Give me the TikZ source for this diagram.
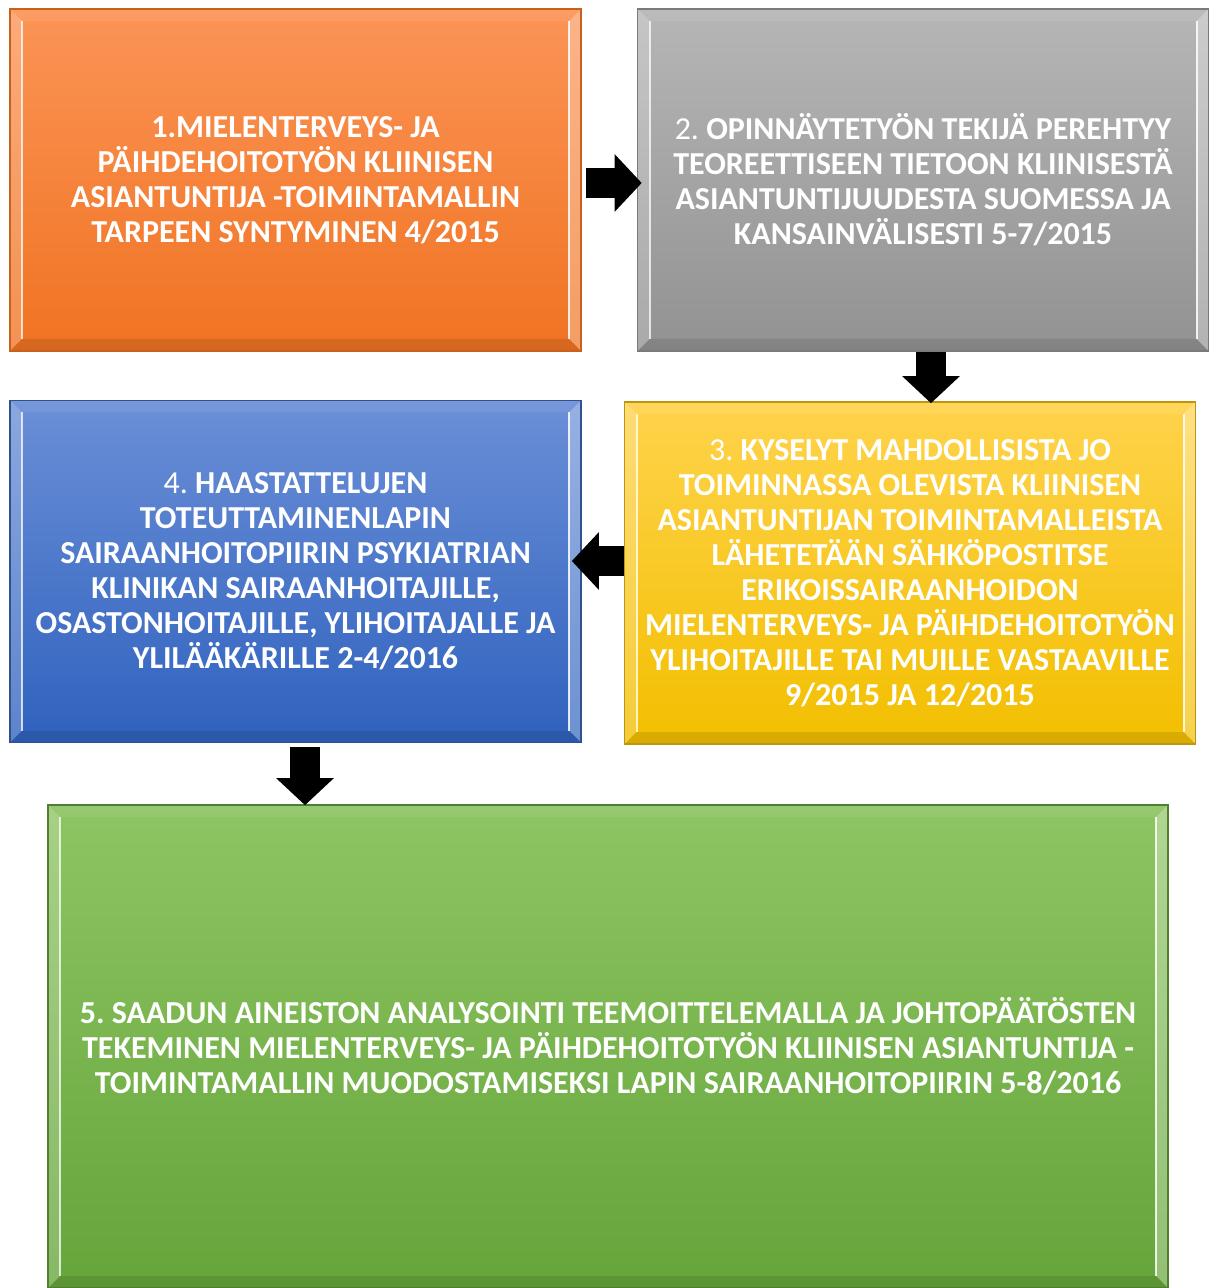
\documentclass[tikz,border=0pt]{standalone}
\usepackage{fontspec}
\setmainfont{Carlito}
\usepackage{tikz}
\usetikzlibrary{arrows.meta}
\frenchspacing
\definecolor{orangetop}{HTML}{FB9456}
\definecolor{orangebot}{HTML}{F07322}
\definecolor{orangeline}{HTML}{C9611E}
\definecolor{graytop}{HTML}{B6B6B6}
\definecolor{graybot}{HTML}{929292}
\definecolor{grayline}{HTML}{7A7A7A}
\definecolor{yellowtop}{HTML}{FFD34C}
\definecolor{yellowbot}{HTML}{F2BF00}
\definecolor{yellowline}{HTML}{BE9410}
\definecolor{bluetop}{HTML}{6B8FD7}
\definecolor{bluebot}{HTML}{2F62BE}
\definecolor{blueline}{HTML}{2F528F}
\definecolor{greentop}{HTML}{8EC563}
\definecolor{greenbot}{HTML}{65A53A}
\definecolor{greenline}{HTML}{507E32}
\tikzstyle{stepbox}=[rectangle, draw, line width=0.8pt, minimum width=285.5pt, minimum height=171pt,
	text=white, align=center, font=\bfseries\fontsize{16}{17.5}\selectfont,
	path picture={
		\coordinate (pnw) at (path picture bounding box.north west);
		\coordinate (pne) at (path picture bounding box.north east);
		\coordinate (psw) at (path picture bounding box.south west);
		\coordinate (pse) at (path picture bounding box.south east);
		\fill[white, opacity=.22] (pnw) -- ([shift={(6pt,-6pt)}]pnw) -- ([shift={(6pt,6pt)}]psw) -- (psw) -- cycle;
		\fill[white, opacity=.30] (pne) -- ([shift={(-6pt,-6pt)}]pne) -- ([shift={(-6pt,6pt)}]pse) -- (pse) -- cycle;
		\fill[white, opacity=.08] (pnw) -- (pne) -- ([shift={(-6pt,-6pt)}]pne) -- ([shift={(6pt,-6pt)}]pnw) -- cycle;
		\fill[black, opacity=.10] (psw) -- (pse) -- ([shift={(-6pt,6pt)}]pse) -- ([shift={(6pt,6pt)}]psw) -- cycle;
		\draw[white, opacity=.75, line width=1pt] ([shift={(6pt,-6pt)}]pnw) -- ([shift={(6pt,6pt)}]psw);
		\draw[white, opacity=.85, line width=1pt] ([shift={(-6pt,-6pt)}]pne) -- ([shift={(-6pt,6pt)}]pse);
	}]
\tikzstyle{orangebox}=[stepbox, top color=orangetop, bottom color=orangebot, draw=orangeline]
\tikzstyle{graybox}=[stepbox, top color=graytop, bottom color=graybot, draw=grayline]
\tikzstyle{yellowbox}=[stepbox, top color=yellowtop, bottom color=yellowbot, draw=yellowline]
\tikzstyle{bluebox}=[stepbox, top color=bluetop, bottom color=bluebot, draw=blueline]
\tikzstyle{greenbox}=[stepbox, top color=greentop, bottom color=greenbot, draw=greenline,
	minimum width=560pt, minimum height=241.5pt]
\tikzstyle{flow}=[draw=black, line width=15pt, -{Triangle[width=28pt,length=13.5pt]}]
\newcommand{\stepbox}{\node}

\begin{document}
\begin{tikzpicture}[x=0.5pt, y=-0.5pt]
	\useasboundingbox (0,0) rectangle (1216,1288);
	%% the five steps
	\stepbox[orangebox] (b1) at (295.5,180)
		{1.MIELENTERVEYS- JA\\PÄIHDEHOITOTYÖN KLIINISEN\\ASIANTUNTIJA -TOIMINTAMALLIN\\TARPEEN SYNTYMINEN 4/2015};
	\stepbox[graybox] (b2) at (923,180)
		{\textmd{2.} OPINNÄYTETYÖN TEKIJÄ PEREHTYY\\TEOREETTISEEN TIETOON KLIINISESTÄ\\ASIANTUNTIJUUDESTA SUOMESSA JA\\KANSAINVÄLISESTI 5-7/2015};
	\stepbox[yellowbox] (b3) at (910,573)
		{\textmd{3.} KYSELYT MAHDOLLISISTA JO\\TOIMINNASSA OLEVISTA KLIINISEN\\ASIANTUNTIJAN TOIMINTAMALLEISTA\\LÄHETETÄÄN SÄHKÖPOSTITSE\\ERIKOISSAIRAANHOIDON\\MIELENTERVEYS- JA PÄIHDEHOITOTYÖN\\YLIHOITAJILLE TAI MUILLE VASTAAVILLE\\9/2015 JA 12/2015};
	\stepbox[bluebox] (b4) at (295.5,571.5)
		{\textmd{4.} HAASTATTELUJEN\\TOTEUTTAMINENLAPIN\\SAIRAANHOITOPIIRIN PSYKIATRIAN\\KLINIKAN SAIRAANHOITAJILLE,\\OSASTONHOITAJILLE, YLIHOITAJALLE JA\\YLILÄÄKÄRILLE 2-4/2016};
	\stepbox[greenbox] (b5) at (608,1046.5)
		{5. SAADUN AINEISTON ANALYSOINTI TEEMOITTELEMALLA JA JOHTOPÄÄTÖSTEN\\TEKEMINEN MIELENTERVEYS- JA PÄIHDEHOITOTYÖN KLIINISEN ASIANTUNTIJA -\\TOIMINTAMALLIN MUODOSTAMISEKSI LAPIN SAIRAANHOITOPIIRIN 5-8/2016};
	%% arrow ends
	\coordinate (a12) at ([yshift=-1.5pt]b1.east);
	\coordinate (a23) at ([xshift=4pt]b2.south);
	\coordinate (a34) at ([yshift=6pt]b3.west);
	\coordinate (a45) at ([xshift=4.75pt]b4.south);
	%% for the arrows
	\path
		(a12) edge[flow, shorten <=2pt, shorten >=-2.5pt] (a12 -| b2.west)
		(a23) edge[flow, shorten >=-1pt] (a23 |- b3.north)
		(a34) edge[flow, shorten >=-5pt] (a34 -| b4.east)
		(a45) edge[flow, shorten <=2pt, shorten >=-0.5pt] (a45 |- b5.north)
		;
\end{tikzpicture}
\end{document}
